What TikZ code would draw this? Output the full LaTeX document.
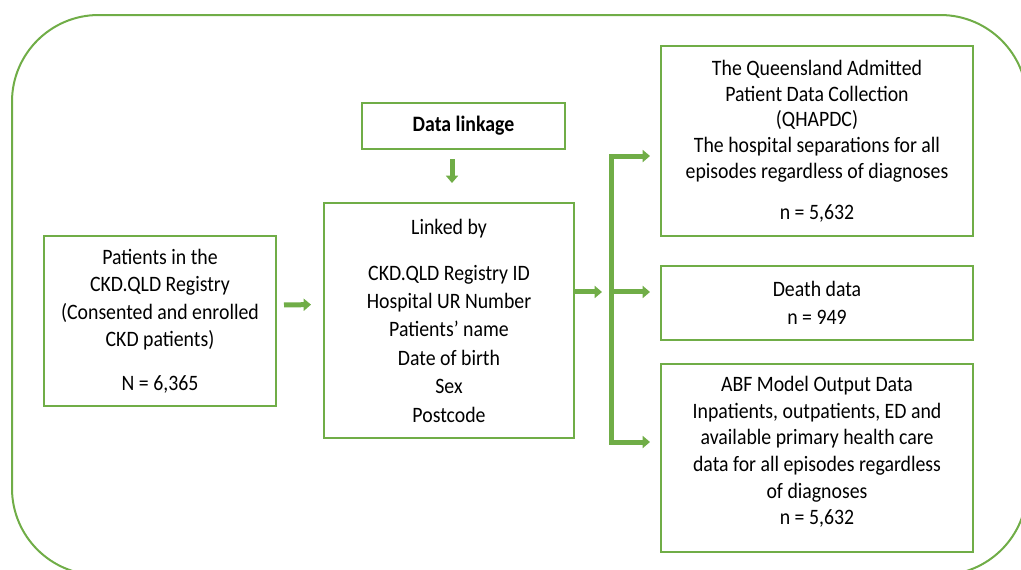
\documentclass[tikz,border=0pt]{standalone}
\usepackage{fontspec}
\setmainfont{Carlito}[FakeStretch=0.9]
\usetikzlibrary{arrows.meta}
\definecolor{lk}{HTML}{70AD47}

\begin{document}
\begin{tikzpicture}[x=0.75pt, y=-0.75pt,
        >={Triangle[length=5.5pt, width=9pt]},
        box/.style={draw=lk, line width=1.5pt, align=center, inner sep=0pt,
            font=\fontsize{16.5}{20.6}\selectfont},
        fat/.style={draw=lk, line width=3.75pt}]
        \useasboundingbox (0,0) rectangle (1021,569);
        \clip (0,0) rectangle (1021,569);
        % outer frame
        \draw[lk, line width=1.5pt, rounded corners=65pt] (12,15) rectangle (1027,575);
        % left and middle boxes
        \node[box, minimum width=174pt, minimum height=127.5pt] (patients) at (160,321)
            {Patients in the\\CKD.QLD Registry\\(Consented and enrolled\\CKD patients)\\[11.8pt]N = 6,365};
        \node[box, minimum width=152.25pt, minimum height=34.5pt] (linkage) at (463.5,126)
            {\textbf{Data linkage}};
        \node[box, minimum width=187.5pt, minimum height=176.25pt,
            font=\fontsize{16.5}{21.3}\selectfont] (linked) at (449,320.5)
            {Linked by\\[13.2pt]CKD.QLD Registry ID\\Hospital UR Number\\Patients’ name\\Date of birth\\Sex\\Postcode};
        % data sources on the right
        \node[box, minimum width=234pt, minimum height=142.5pt,
            font=\fontsize{16.5}{19.3}\selectfont] (qhapdc) at (817,141)
            {The Queensland Admitted\\Patient Data Collection\\(QHAPDC)\\The hospital separations for all\\episodes regardless of diagnoses\\[11.4pt]n = 5,632};
        \node[box, minimum width=234pt, minimum height=55.5pt] (death) at (817,303)
            {Death data\\n = 949};
        \node[box, minimum width=234pt, minimum height=141pt,
            font=\fontsize{16.5}{20}\selectfont] (abf) at (817,458)
            {ABF Model Output Data\\Inpatients, outpatients, ED and\\available primary health care\\data for all episodes regardless\\of diagnoses\\n = 5,632\\[-9pt]};
        % arrows
        \coordinate (dl) at ([xshift=2.25pt]linked.north);
        \coordinate (busmid) at ([xshift=27.75pt, yshift=21.4pt]linked.east);
        \coordinate (bustop) at (611,156);
        \coordinate (busbot) at (611,442);
        \draw[fat, ->, shorten <=5.25pt, shorten >=9pt] ([yshift=12pt]patients.east) -- ([yshift=12pt]linked.west);
        \draw[fat, ->, shorten <=6.75pt, shorten >=14.25pt] (dl |- linkage.south) -- (dl);
        \draw[fat, ->, shorten >=7.5pt] ([yshift=21.4pt]linked.east) -- (busmid);
        \draw[fat, <->, line join=miter, shorten <=7.5pt, shorten >=7.5pt] (bustop -| qhapdc.west) -- (bustop) -- (busbot) -- (busbot -| abf.west);
        \draw[fat, ->, shorten >=7.5pt] (busmid) -- (busmid -| death.west);
    \end{tikzpicture}
\end{document}
